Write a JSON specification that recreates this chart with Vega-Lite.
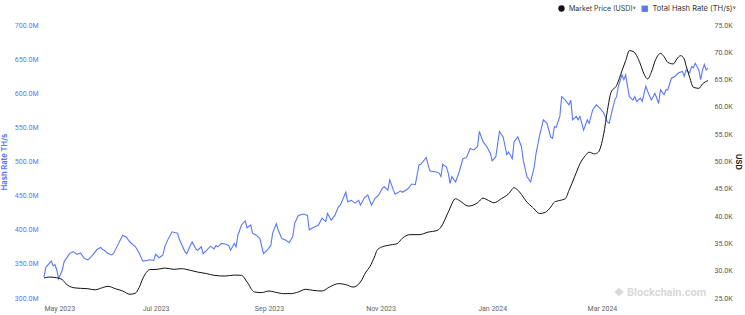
{
  "$schema": "https://vega.github.io/schema/vega-lite/v6.json",
  "width": 664,
  "height": 273,
  "autosize": {"type": "none"},
  "padding": {"left": 44, "top": 25, "right": 37, "bottom": 17},
  "background": "white",
  "config": {
    "view": {"stroke": null},
    "font": "Inter",
    "axis": {"grid": false, "domain": false, "ticks": false, "labelFont": "Roboto", "titleFont": "Inter"},
    "legend": {"labelFont": "Inter"}
  },
  "datasets": {
    "hash": [
      {"date": "2023-05-01", "hash_rate": 331e6}, {"date": "2023-05-02", "hash_rate": 345e6}, {"date": "2023-05-05", "hash_rate": 354e6},
      {"date": "2023-05-06", "hash_rate": 347e6}, {"date": "2023-05-07", "hash_rate": 349e6}, {"date": "2023-05-08", "hash_rate": 341e6},
      {"date": "2023-05-09", "hash_rate": 328e6}, {"date": "2023-05-11", "hash_rate": 341e6}, {"date": "2023-05-12", "hash_rate": 353e6},
      {"date": "2023-05-15", "hash_rate": 365e6}, {"date": "2023-05-17", "hash_rate": 368e6}, {"date": "2023-05-19", "hash_rate": 364e6},
      {"date": "2023-05-21", "hash_rate": 366e6}, {"date": "2023-05-23", "hash_rate": 358e6}, {"date": "2023-05-25", "hash_rate": 356e6},
      {"date": "2023-05-27", "hash_rate": 361e6}, {"date": "2023-05-30", "hash_rate": 371e6}, {"date": "2023-06-01", "hash_rate": 374e6},
      {"date": "2023-06-02", "hash_rate": 371e6}, {"date": "2023-06-03", "hash_rate": 370e6}, {"date": "2023-06-05", "hash_rate": 365e6},
      {"date": "2023-06-07", "hash_rate": 363e6}, {"date": "2023-06-08", "hash_rate": 365e6}, {"date": "2023-06-10", "hash_rate": 376e6},
      {"date": "2023-06-13", "hash_rate": 392e6}, {"date": "2023-06-15", "hash_rate": 389e6}, {"date": "2023-06-17", "hash_rate": 382e6},
      {"date": "2023-06-20", "hash_rate": 375e6}, {"date": "2023-06-22", "hash_rate": 366e6}, {"date": "2023-06-24", "hash_rate": 354e6},
      {"date": "2023-06-26", "hash_rate": 355e6}, {"date": "2023-06-28", "hash_rate": 356e6}, {"date": "2023-06-30", "hash_rate": 355e6},
      {"date": "2023-07-01", "hash_rate": 364e6}, {"date": "2023-07-03", "hash_rate": 359e6}, {"date": "2023-07-05", "hash_rate": 363e6},
      {"date": "2023-07-06", "hash_rate": 375e6}, {"date": "2023-07-08", "hash_rate": 387e6}, {"date": "2023-07-10", "hash_rate": 397e6},
      {"date": "2023-07-13", "hash_rate": 395e6}, {"date": "2023-07-14", "hash_rate": 386e6}, {"date": "2023-07-17", "hash_rate": 368e6},
      {"date": "2023-07-18", "hash_rate": 365e6}, {"date": "2023-07-20", "hash_rate": 377e6}, {"date": "2023-07-21", "hash_rate": 382e6},
      {"date": "2023-07-23", "hash_rate": 372e6}, {"date": "2023-07-24", "hash_rate": 370e6}, {"date": "2023-07-26", "hash_rate": 375e6},
      {"date": "2023-07-27", "hash_rate": 365e6}, {"date": "2023-07-29", "hash_rate": 370e6}, {"date": "2023-07-31", "hash_rate": 376e6},
      {"date": "2023-08-02", "hash_rate": 372e6}, {"date": "2023-08-03", "hash_rate": 377e6}, {"date": "2023-08-04", "hash_rate": 375e6},
      {"date": "2023-08-06", "hash_rate": 380e6}, {"date": "2023-08-08", "hash_rate": 379e6}, {"date": "2023-08-10", "hash_rate": 377e6},
      {"date": "2023-08-11", "hash_rate": 370e6}, {"date": "2023-08-13", "hash_rate": 380e6}, {"date": "2023-08-14", "hash_rate": 375e6},
      {"date": "2023-08-15", "hash_rate": 392e6}, {"date": "2023-08-17", "hash_rate": 407e6}, {"date": "2023-08-19", "hash_rate": 413e6},
      {"date": "2023-08-20", "hash_rate": 403e6}, {"date": "2023-08-22", "hash_rate": 407e6}, {"date": "2023-08-23", "hash_rate": 395e6},
      {"date": "2023-08-25", "hash_rate": 392e6}, {"date": "2023-08-27", "hash_rate": 387e6}, {"date": "2023-08-29", "hash_rate": 365e6},
      {"date": "2023-08-31", "hash_rate": 370e6}, {"date": "2023-09-02", "hash_rate": 377e6}, {"date": "2023-09-03", "hash_rate": 395e6},
      {"date": "2023-09-05", "hash_rate": 409e6}, {"date": "2023-09-06", "hash_rate": 400e6}, {"date": "2023-09-08", "hash_rate": 387e6},
      {"date": "2023-09-10", "hash_rate": 385e6}, {"date": "2023-09-12", "hash_rate": 381e6}, {"date": "2023-09-14", "hash_rate": 390e6},
      {"date": "2023-09-15", "hash_rate": 409e6}, {"date": "2023-09-17", "hash_rate": 421e6}, {"date": "2023-09-20", "hash_rate": 423e6},
      {"date": "2023-09-22", "hash_rate": 421e6}, {"date": "2023-09-23", "hash_rate": 400e6}, {"date": "2023-09-25", "hash_rate": 403e6},
      {"date": "2023-09-28", "hash_rate": 407e6}, {"date": "2023-09-30", "hash_rate": 417e6}, {"date": "2023-10-02", "hash_rate": 412e6},
      {"date": "2023-10-03", "hash_rate": 424e6}, {"date": "2023-10-05", "hash_rate": 414e6}, {"date": "2023-10-07", "hash_rate": 421e6},
      {"date": "2023-10-09", "hash_rate": 434e6}, {"date": "2023-10-10", "hash_rate": 436e6}, {"date": "2023-10-13", "hash_rate": 455e6},
      {"date": "2023-10-14", "hash_rate": 441e6}, {"date": "2023-10-16", "hash_rate": 443e6}, {"date": "2023-10-18", "hash_rate": 439e6},
      {"date": "2023-10-20", "hash_rate": 443e6}, {"date": "2023-10-21", "hash_rate": 436e6}, {"date": "2023-10-23", "hash_rate": 446e6},
      {"date": "2023-10-25", "hash_rate": 451e6}, {"date": "2023-10-27", "hash_rate": 436e6}, {"date": "2023-10-29", "hash_rate": 446e6},
      {"date": "2023-10-31", "hash_rate": 451e6}, {"date": "2023-11-02", "hash_rate": 461e6}, {"date": "2023-11-03", "hash_rate": 463e6},
      {"date": "2023-11-05", "hash_rate": 458e6}, {"date": "2023-11-06", "hash_rate": 473e6}, {"date": "2023-11-08", "hash_rate": 458e6},
      {"date": "2023-11-09", "hash_rate": 452e6}, {"date": "2023-11-12", "hash_rate": 457e6}, {"date": "2023-11-13", "hash_rate": 455e6},
      {"date": "2023-11-16", "hash_rate": 460e6}, {"date": "2023-11-18", "hash_rate": 467e6}, {"date": "2023-11-20", "hash_rate": 466e6},
      {"date": "2023-11-22", "hash_rate": 495e6}, {"date": "2023-11-23", "hash_rate": 496e6}, {"date": "2023-11-26", "hash_rate": 506e6},
      {"date": "2023-11-27", "hash_rate": 495e6}, {"date": "2023-11-28", "hash_rate": 486e6}, {"date": "2023-12-01", "hash_rate": 485e6},
      {"date": "2023-12-03", "hash_rate": 483e6}, {"date": "2023-12-04", "hash_rate": 478e6}, {"date": "2023-12-05", "hash_rate": 496e6},
      {"date": "2023-12-07", "hash_rate": 492e6}, {"date": "2023-12-08", "hash_rate": 483e6}, {"date": "2023-12-09", "hash_rate": 468e6},
      {"date": "2023-12-10", "hash_rate": 478e6}, {"date": "2023-12-12", "hash_rate": 470e6}, {"date": "2023-12-14", "hash_rate": 485e6},
      {"date": "2023-12-16", "hash_rate": 504e6}, {"date": "2023-12-18", "hash_rate": 506e6}, {"date": "2023-12-20", "hash_rate": 519e6},
      {"date": "2023-12-22", "hash_rate": 517e6}, {"date": "2023-12-24", "hash_rate": 522e6}, {"date": "2023-12-25", "hash_rate": 544e6},
      {"date": "2023-12-27", "hash_rate": 529e6}, {"date": "2023-12-29", "hash_rate": 522e6}, {"date": "2023-12-31", "hash_rate": 512e6},
      {"date": "2024-01-01", "hash_rate": 501e6}, {"date": "2024-01-03", "hash_rate": 507e6}, {"date": "2024-01-05", "hash_rate": 544e6},
      {"date": "2024-01-07", "hash_rate": 536e6}, {"date": "2024-01-09", "hash_rate": 510e6}, {"date": "2024-01-10", "hash_rate": 514e6},
      {"date": "2024-01-12", "hash_rate": 504e6}, {"date": "2024-01-13", "hash_rate": 529e6}, {"date": "2024-01-15", "hash_rate": 536e6},
      {"date": "2024-01-17", "hash_rate": 522e6}, {"date": "2024-01-18", "hash_rate": 502e6}, {"date": "2024-01-20", "hash_rate": 478e6},
      {"date": "2024-01-22", "hash_rate": 470e6}, {"date": "2024-01-24", "hash_rate": 492e6}, {"date": "2024-01-25", "hash_rate": 512e6},
      {"date": "2024-01-27", "hash_rate": 539e6}, {"date": "2024-01-29", "hash_rate": 561e6}, {"date": "2024-01-31", "hash_rate": 556e6},
      {"date": "2024-02-02", "hash_rate": 536e6}, {"date": "2024-02-03", "hash_rate": 534e6}, {"date": "2024-02-04", "hash_rate": 551e6},
      {"date": "2024-02-05", "hash_rate": 550e6}, {"date": "2024-02-07", "hash_rate": 566e6}, {"date": "2024-02-08", "hash_rate": 595e6},
      {"date": "2024-02-10", "hash_rate": 590e6}, {"date": "2024-02-12", "hash_rate": 583e6}, {"date": "2024-02-13", "hash_rate": 590e6},
      {"date": "2024-02-14", "hash_rate": 561e6}, {"date": "2024-02-16", "hash_rate": 566e6}, {"date": "2024-02-17", "hash_rate": 561e6},
      {"date": "2024-02-18", "hash_rate": 566e6}, {"date": "2024-02-20", "hash_rate": 546e6}, {"date": "2024-02-22", "hash_rate": 561e6},
      {"date": "2024-02-23", "hash_rate": 556e6}, {"date": "2024-02-25", "hash_rate": 576e6}, {"date": "2024-02-27", "hash_rate": 583e6},
      {"date": "2024-02-29", "hash_rate": 578e6}, {"date": "2024-03-02", "hash_rate": 571e6}, {"date": "2024-03-04", "hash_rate": 558e6},
      {"date": "2024-03-05", "hash_rate": 556e6}, {"date": "2024-03-06", "hash_rate": 568e6}, {"date": "2024-03-08", "hash_rate": 590e6},
      {"date": "2024-03-09", "hash_rate": 595e6}, {"date": "2024-03-10", "hash_rate": 610e6}, {"date": "2024-03-12", "hash_rate": 627e6},
      {"date": "2024-03-13", "hash_rate": 620e6}, {"date": "2024-03-14", "hash_rate": 627e6}, {"date": "2024-03-15", "hash_rate": 610e6},
      {"date": "2024-03-16", "hash_rate": 595e6}, {"date": "2024-03-18", "hash_rate": 590e6}, {"date": "2024-03-19", "hash_rate": 595e6},
      {"date": "2024-03-20", "hash_rate": 588e6}, {"date": "2024-03-22", "hash_rate": 593e6}, {"date": "2024-03-23", "hash_rate": 588e6},
      {"date": "2024-03-25", "hash_rate": 610e6}, {"date": "2024-03-26", "hash_rate": 603e6}, {"date": "2024-03-28", "hash_rate": 590e6},
      {"date": "2024-03-29", "hash_rate": 595e6}, {"date": "2024-03-30", "hash_rate": 600e6}, {"date": "2024-04-01", "hash_rate": 585e6},
      {"date": "2024-04-02", "hash_rate": 605e6}, {"date": "2024-04-04", "hash_rate": 598e6}, {"date": "2024-04-05", "hash_rate": 605e6},
      {"date": "2024-04-06", "hash_rate": 605e6}, {"date": "2024-04-08", "hash_rate": 622e6}, {"date": "2024-04-10", "hash_rate": 625e6},
      {"date": "2024-04-12", "hash_rate": 630e6}, {"date": "2024-04-14", "hash_rate": 632e6}, {"date": "2024-04-15", "hash_rate": 625e6},
      {"date": "2024-04-16", "hash_rate": 634e6}, {"date": "2024-04-18", "hash_rate": 630e6}, {"date": "2024-04-19", "hash_rate": 639e6},
      {"date": "2024-04-20", "hash_rate": 637e6}, {"date": "2024-04-21", "hash_rate": 644e6}, {"date": "2024-04-23", "hash_rate": 634e6},
      {"date": "2024-04-24", "hash_rate": 620e6}, {"date": "2024-04-25", "hash_rate": 634e6}, {"date": "2024-04-26", "hash_rate": 642e6},
      {"date": "2024-04-27", "hash_rate": 634e6}, {"date": "2024-04-28", "hash_rate": 637e6}
    ],
    "price": [
      {"date": "2023-05-01", "price": 28660}, {"date": "2023-05-04", "price": 28840}, {"date": "2023-05-08", "price": 28700},
      {"date": "2023-05-11", "price": 28360}, {"date": "2023-05-13", "price": 27600}, {"date": "2023-05-17", "price": 26900},
      {"date": "2023-05-21", "price": 26770}, {"date": "2023-05-25", "price": 26700}, {"date": "2023-05-29", "price": 26500},
      {"date": "2023-06-02", "price": 26900}, {"date": "2023-06-05", "price": 27140}, {"date": "2023-06-09", "price": 26700},
      {"date": "2023-06-13", "price": 26280}, {"date": "2023-06-17", "price": 25680}, {"date": "2023-06-20", "price": 25900},
      {"date": "2023-06-22", "price": 26900}, {"date": "2023-06-24", "price": 28550}, {"date": "2023-06-28", "price": 30200},
      {"date": "2023-07-02", "price": 30250}, {"date": "2023-07-06", "price": 30490}, {"date": "2023-07-11", "price": 30250},
      {"date": "2023-07-15", "price": 30370}, {"date": "2023-07-20", "price": 30070}, {"date": "2023-07-24", "price": 29750},
      {"date": "2023-07-29", "price": 29460}, {"date": "2023-08-02", "price": 29150}, {"date": "2023-08-08", "price": 29020},
      {"date": "2023-08-13", "price": 29200}, {"date": "2023-08-17", "price": 29150}, {"date": "2023-08-20", "price": 27930},
      {"date": "2023-08-24", "price": 26100}, {"date": "2023-08-28", "price": 25990}, {"date": "2023-09-01", "price": 26280},
      {"date": "2023-09-04", "price": 26100}, {"date": "2023-09-09", "price": 25800}, {"date": "2023-09-13", "price": 25800},
      {"date": "2023-09-17", "price": 26100}, {"date": "2023-09-21", "price": 26600}, {"date": "2023-09-25", "price": 26400},
      {"date": "2023-09-30", "price": 26280}, {"date": "2023-10-04", "price": 27000}, {"date": "2023-10-09", "price": 27630},
      {"date": "2023-10-13", "price": 27450}, {"date": "2023-10-17", "price": 27000}, {"date": "2023-10-21", "price": 27930},
      {"date": "2023-10-24", "price": 29750}, {"date": "2023-10-26", "price": 30670}, {"date": "2023-10-29", "price": 32800},
      {"date": "2023-10-30", "price": 33700}, {"date": "2023-11-01", "price": 34240}, {"date": "2023-11-05", "price": 34640},
      {"date": "2023-11-10", "price": 34950}, {"date": "2023-11-13", "price": 35970}, {"date": "2023-11-17", "price": 36600},
      {"date": "2023-11-22", "price": 36600}, {"date": "2023-11-27", "price": 37070}, {"date": "2023-12-02", "price": 37380},
      {"date": "2023-12-04", "price": 37980}, {"date": "2023-12-08", "price": 40730}, {"date": "2023-12-12", "price": 43180},
      {"date": "2023-12-14", "price": 42870}, {"date": "2023-12-19", "price": 41830}, {"date": "2023-12-24", "price": 42440},
      {"date": "2023-12-27", "price": 43290}, {"date": "2023-12-30", "price": 42870}, {"date": "2024-01-02", "price": 42440},
      {"date": "2024-01-06", "price": 43180}, {"date": "2024-01-10", "price": 44090}, {"date": "2024-01-13", "price": 45190},
      {"date": "2024-01-16", "price": 44390}, {"date": "2024-01-20", "price": 42560}, {"date": "2024-01-23", "price": 41640},
      {"date": "2024-01-27", "price": 40480}, {"date": "2024-01-30", "price": 40680}, {"date": "2024-02-02", "price": 41640},
      {"date": "2024-02-04", "price": 42560}, {"date": "2024-02-07", "price": 42870}, {"date": "2024-02-10", "price": 43180},
      {"date": "2024-02-12", "price": 44700}, {"date": "2024-02-15", "price": 47130}, {"date": "2024-02-18", "price": 49580},
      {"date": "2024-02-21", "price": 51100}, {"date": "2024-02-23", "price": 51700}, {"date": "2024-02-26", "price": 51400},
      {"date": "2024-02-28", "price": 51700}, {"date": "2024-03-02", "price": 55070}, {"date": "2024-03-04", "price": 59330},
      {"date": "2024-03-06", "price": 62670}, {"date": "2024-03-09", "price": 63900}, {"date": "2024-03-12", "price": 66640},
      {"date": "2024-03-14", "price": 68470}, {"date": "2024-03-16", "price": 70300}, {"date": "2024-03-18", "price": 70170},
      {"date": "2024-03-20", "price": 69390}, {"date": "2024-03-22", "price": 67870}, {"date": "2024-03-24", "price": 66040},
      {"date": "2024-03-26", "price": 65120}, {"date": "2024-03-28", "price": 66330}, {"date": "2024-03-30", "price": 68340},
      {"date": "2024-04-02", "price": 69800}, {"date": "2024-04-04", "price": 69200}, {"date": "2024-04-06", "price": 68160},
      {"date": "2024-04-09", "price": 67870}, {"date": "2024-04-11", "price": 68780}, {"date": "2024-04-13", "price": 69390},
      {"date": "2024-04-15", "price": 68780}, {"date": "2024-04-16", "price": 67560}, {"date": "2024-04-18", "price": 65400},
      {"date": "2024-04-20", "price": 63590}, {"date": "2024-04-23", "price": 63400}, {"date": "2024-04-25", "price": 64210},
      {"date": "2024-04-28", "price": 64810}
    ]
  },
  "layer": [
    {
      "data": {"values": [{}]},
      "mark": {"type": "text", "text": "❖ Blockchain.com", "align": "right", "baseline": "middle", "font": "Roboto", "fontSize": 11, "fontWeight": "bold", "color": "#d8d8d8"},
      "encoding": {
        "x": {"datum": {"year": 2024, "month": 4, "date": 27, "utc": true}, "type": "temporal"},
        "y": {"datum": 25900, "type": "quantitative", "scale": {"domain": [25000, 75000], "nice": false, "zero": false}, "axis": null}
      }
    },
    {
      "data": {"name": "hash"},
      "mark": {"type": "line", "color": "#5a78f6", "strokeWidth": 1.1},
      "encoding": {
        "x": {
          "field": "date", "type": "temporal", "title": null,
          "scale": {"type": "utc", "domain": [{"year": 2023, "month": 5, "date": 1, "utc": true}, {"year": 2024, "month": 4, "date": 28, "utc": true}]},
          "axis": {
            "values": [
              {"year": 2023, "month": 5, "date": 1, "utc": true}, {"year": 2023, "month": 7, "date": 1, "utc": true},
              {"year": 2023, "month": 9, "date": 1, "utc": true}, {"year": 2023, "month": 11, "date": 1, "utc": true},
              {"year": 2024, "month": 1, "date": 1, "utc": true}, {"year": 2024, "month": 3, "date": 1, "utc": true}
            ],
            "format": "%b %Y", "labelColor": "#666", "labelFontSize": 7, "labelPadding": 6
          }
        },
        "y": {
          "field": "hash_rate", "type": "quantitative",
          "scale": {"domain": [300000000, 700000000], "nice": false, "zero": false},
          "axis": {
            "orient": "left",
            "values": [300000000, 350000000, 400000000, 450000000, 500000000, 550000000, 600000000, 650000000, 700000000],
            "labelExpr": "format(datum.value / 1000000, '.1f') + 'M'",
            "labelColor": "#5a78f6", "labelFontSize": 7, "labelPadding": 6,
            "title": "Hash Rate TH/s", "titleColor": "#5a78f6", "titleFontSize": 7.5, "titleFontWeight": "bold", "titlePadding": 6
          }
        },
        "color": {
          "datum": "Total Hash Rate (TH/s)",
          "scale": {"range": ["#5a78f6"]},
          "legend": {
            "orient": "none", "legendX": 597, "legendY": -20, "title": null, "symbolType": "square", "symbolSize": 40,
            "labelExpr": "datum.label + '˅'", "labelFontSize": 7.5, "labelColor": "#333",
            "encode": {"symbols": {"update": {"fill": {"value": "#5a78f6"}, "stroke": {"value": "#5a78f6"}, "strokeWidth": {"value": 0}}}}
          }
        }
      }
    },
    {
      "data": {"name": "price"},
      "mark": {"type": "line", "color": "#222", "strokeWidth": 1, "interpolate": "monotone"},
      "encoding": {
        "x": {"field": "date", "type": "temporal", "title": null},
        "y": {
          "field": "price", "type": "quantitative",
          "scale": {"domain": [25000, 75000], "nice": false, "zero": false},
          "axis": {
            "orient": "right",
            "values": [25000, 30000, 35000, 40000, 45000, 50000, 55000, 60000, 65000, 70000, 75000],
            "labelExpr": "format(datum.value / 1000, '.1f') + 'K'",
            "labelColor": "#555", "labelFontSize": 7, "labelPadding": 6,
            "title": "USD", "titleColor": "#222", "titleFontSize": 7.5, "titleFontWeight": "bold", "titlePadding": 1
          }
        },
        "color": {
          "datum": "Market Price (USD)",
          "scale": {"range": ["#111111"]},
          "legend": {
            "orient": "none", "legendX": 514, "legendY": -20, "title": null, "symbolType": "circle", "symbolSize": 40,
            "labelExpr": "datum.label + '˅'", "labelFontSize": 7, "labelColor": "#333",
            "encode": {"symbols": {"update": {"fill": {"value": "#111111"}, "stroke": {"value": "#111111"}, "strokeWidth": {"value": 0}}}}
          }
        }
      }
    }
  ],
  "resolve": {"scale": {"y": "independent", "color": "independent"}}
}
